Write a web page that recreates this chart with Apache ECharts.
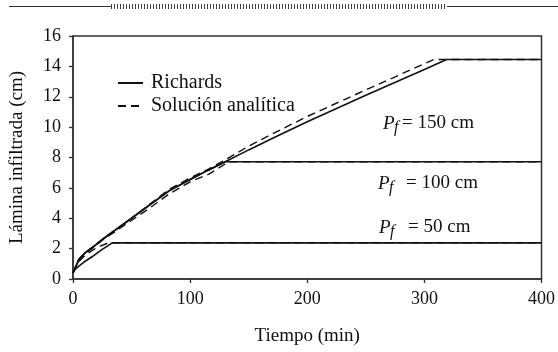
<!DOCTYPE html>
<html>
<head>
<meta charset="utf-8">
<script src="https://cdn.jsdelivr.net/npm/echarts@6/dist/echarts.min.js"></script>
<style>
  html, body { margin: 0; padding: 0; background: #fff; }
  #chart { width: 558px; height: 352px; }
</style>
</head>
<body>
<div id="chart"></div>
<script>
const xTicks = [0, 100, 200, 300, 400];
const yTicks = [0, 2, 4, 6, 8, 10, 12, 14, 16];

// Richards (solid)
const tRich150 = [0, 5, 10, 17, 25, 34, 50, 65, 82, 100, 115, 130, 150, 170, 200, 250, 300, 319, 400];
const vRich150 = [0.4, 1.28, 1.7, 2.1, 2.6, 3.1, 4.0, 4.85, 5.8, 6.55, 7.15, 7.72, 8.5, 9.25, 10.35, 12.1, 13.8, 14.45, 14.45];
const tRich100 = [0, 5, 10, 17, 25, 34, 50, 65, 82, 100, 115, 130, 400];
const vRich100 = [0.4, 1.28, 1.7, 2.1, 2.6, 3.1, 4.0, 4.85, 5.8, 6.55, 7.15, 7.72, 7.72];
const tRich50 = [0, 2, 5, 10, 17, 25, 33.5, 400];
const vRich50 = [0.4, 0.65, 0.84, 1.15, 1.5, 1.95, 2.38, 2.38];

// Solución analítica (dashed)
const tAna150 = [0, 5, 10, 17, 25, 34, 50, 65, 82, 100, 116, 130, 150, 170, 200, 250, 308, 400];
const vAna150 = [0.4, 1.3, 1.72, 2.12, 2.62, 3.12, 4.0, 4.9, 5.9, 6.65, 7.25, 7.85, 8.75, 9.55, 10.7, 12.45, 14.45, 14.45];
const tAna100 = [0, 5, 10, 17, 25, 34, 50, 65, 82, 100, 116, 133, 400];
const vAna100 = [0.4, 1.25, 1.65, 2.05, 2.55, 3.02, 3.85, 4.65, 5.6, 6.4, 6.9, 7.72, 7.72];
const tAna50 = [0, 2, 5, 10, 20, 30, 400];
const vAna50 = [0.4, 0.75, 1.15, 1.55, 2.05, 2.38, 2.38];

const zip = (t, v) => t.map((x, i) => [x, v[i]]);

const font = 'Liberation Serif';
const ink = '#111';

const chart = echarts.init(document.getElementById('chart'));

// hatch pattern for the top decoration band
const hatch = document.createElement('canvas');
hatch.width = 3; hatch.height = 6;
const hctx = hatch.getContext('2d');
hctx.fillStyle = '#fff'; hctx.fillRect(0, 0, 3, 6);
hctx.fillStyle = '#444'; hctx.fillRect(0, 0, 1, 6);

const solid = (data) => ({
  name: 'Richards', type: 'line', data: data, showSymbol: false, symbol: 'none',
  lineStyle: { color: ink, width: 1.6, type: 'solid' }, itemStyle: { color: ink },
  silent: true, z: 3
});
const dashed = (data) => ({
  name: 'Solución analítica', type: 'line', data: data, showSymbol: false, symbol: 'none',
  lineStyle: { color: ink, width: 1.4, type: [8, 5] }, itemStyle: { color: ink },
  silent: true, z: 2
});

const pfLabel = (x, y, txt, gap) => ([
  { type: 'text', left: x, top: y, style: { text: 'P', font: 'italic 19px "' + font + '"', fill: ink } },
  { type: 'text', left: x + 11, top: y + 6, style: { text: 'f', font: 'italic 16px "' + font + '"', fill: ink } },
  { type: 'text', left: x + 11 + gap, top: y, style: { text: txt, font: '19px "' + font + '"', fill: ink } }
]);

const option = {
  animation: false,
  backgroundColor: '#fff',
  textStyle: { fontFamily: font, color: ink },
  grid: { left: 73, right: 13, top: 36, bottom: 73, show: true, borderColor: '#333', borderWidth: 1.5, backgroundColor: 'transparent' },
  legend: {
    data: ['Richards', 'Solución analítica'],
    orient: 'vertical', left: 112, top: 68,
    itemWidth: 25, itemHeight: 14, itemGap: 3,
    itemStyle: { opacity: 0 },
    textStyle: { fontFamily: font, fontSize: 20, color: ink, padding: [0, 0, 0, 3] },
    selectedMode: false
  },
  xAxis: {
    type: 'value', min: xTicks[0], max: xTicks[xTicks.length - 1], interval: 100,
    name: 'Tiempo (min)', nameLocation: 'middle', nameGap: 48,
    nameTextStyle: { fontFamily: font, fontSize: 19, color: ink },
    axisLine: { lineStyle: { color: '#333', width: 1.5 } },
    axisTick: { inside: false, length: 4, lineStyle: { color: '#333', width: 1.3 } },
    axisLabel: { fontFamily: font, fontSize: 18, color: ink, margin: 11 },
    splitLine: { show: false }
  },
  yAxis: {
    type: 'value', min: yTicks[0], max: yTicks[yTicks.length - 1], interval: 2,
    name: 'Lámina infiltrada (cm)', nameLocation: 'middle', nameGap: 46,
    nameTextStyle: { fontFamily: font, fontSize: 19, color: ink },
    axisLine: { show: true, lineStyle: { color: '#333', width: 1.5 } },
    axisTick: { show: true, inside: false, length: 4, lineStyle: { color: '#333', width: 1.3 } },
    axisLabel: { fontFamily: font, fontSize: 18, color: ink, margin: 12 },
    splitLine: { show: false }
  },
  graphic: [
    { type: 'line', shape: { x1: 9, y1: 6.5, x2: 558, y2: 6.5 }, style: { stroke: '#333', lineWidth: 1 } },
    { type: 'rect', shape: { x: 111, y: 4, width: 336, height: 5 }, style: { fill: { image: hatch, repeat: 'repeat' } } },
    ...pfLabel(383, 114, '= 150 cm', 8),
    ...pfLabel(378, 174, '= 100 cm', 17),
    ...pfLabel(379, 218, '= 50 cm', 18)
  ],
  series: [
    solid(zip(tRich150, vRich150)),
    solid(zip(tRich100, vRich100)),
    solid(zip(tRich50, vRich50)),
    dashed(zip(tAna150, vAna150)),
    dashed(zip(tAna100, vAna100)),
    dashed(zip(tAna50, vAna50))
  ]
};

chart.setOption(option);
</script>
</body>
</html>
